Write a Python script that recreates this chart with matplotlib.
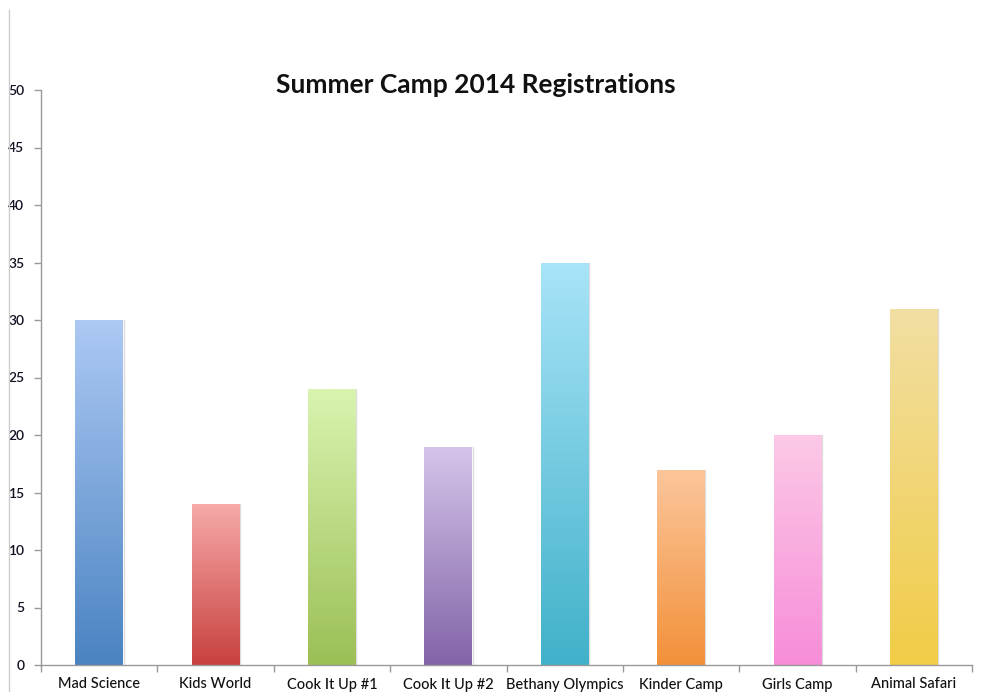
import numpy as np
import matplotlib
matplotlib.use("Agg")
import matplotlib.pyplot as plt
from matplotlib.colors import to_rgb
from matplotlib.lines import Line2D

categories = ["Mad Science", "Kids World", "Cook It Up #1", "Cook It Up #2",
              "Bethany Olympics", "Kinder Camp", "Girls Camp", "Animal Safari"]
values = [30, 14, 24, 19, 35, 17, 20, 31]
top_colors = ["#adc9f4", "#f6aaa9", "#d9f4b0", "#d5c5ea", "#a9e4f8", "#fcc69c", "#fcc9e6", "#f2dfa3"]
bottom_colors = ["#4a83c1", "#c8413f", "#9cbf56", "#8264a8", "#40b1c9", "#f2913a", "#f78dd9", "#f1cc47"]
yticks = [0, 5, 10, 15, 20, 25, 30, 35, 40, 45, 50]

plt.rcParams['font.family'] = ['Lato', 'DejaVu Sans']
fig = plt.figure(figsize=(9.82, 6.92), dpi=100)
ax = fig.add_axes([41/982, 27/692, (972-41)/982, (665-90)/692])

n = len(categories)
x = np.arange(n)
width = 0.41
bars = ax.bar(x, values, width=width, color='none', edgecolor='none', zorder=2)
for b, tc, bc in zip(bars, top_colors, bottom_colors):
    x0, y0 = b.get_x(), b.get_y()
    w, h = b.get_width(), b.get_height()
    t = np.linspace(0, 1, 256)[:, None]
    c1 = np.array(to_rgb(bc)); c2 = np.array(to_rgb(tc))
    grad = (c1 * (1 - t) + c2 * t)[:, None, :].reshape(256, 1, 3)
    im = ax.imshow(grad, extent=[x0, x0 + w, y0, y0 + h], origin='lower',
                   aspect='auto', zorder=2, interpolation='bilinear')
    im.set_clip_path(b)
    ax.plot([x0 + w + 0.004, x0 + w + 0.004], [0, h], color='#dddddd', lw=1, zorder=1)

ax.set_xlim(-0.5, n - 0.5)
ax.set_ylim(0, 50)
ax.set_yticks(yticks)
ax.set_yticklabels([str(v) for v in yticks], fontsize=10, color='#111122', fontweight='semibold')
ax.set_xticks(x)
ax.set_xticklabels(categories, fontsize=10.5, color='#111111', fontweight='medium')
ax.set_xticks(np.arange(n + 1) - 0.5, minor=True)
ax.tick_params(axis='x', which='major', length=0, pad=9)
ax.tick_params(axis='x', which='minor', length=5, color='#999999', width=1)
ax.tick_params(axis='y', length=5, color='#999999', width=1, pad=7)
for s in ['top', 'right']:
    ax.spines[s].set_visible(False)
for s in ['left', 'bottom']:
    ax.spines[s].set_color('#999999')
    ax.spines[s].set_linewidth(1)

fig.text(476/982, 1 - 85/692, "Summer Camp 2014 Registrations", ha='center', va='center',
         fontsize=19, fontweight='bold', color='#111111')
fig.add_artist(Line2D([8.5/982, 8.5/982], [0, 1 - 10/692], transform=fig.transFigure,
                      color='#cccccc', lw=1))

fig.savefig("out.png", dpi=100)
